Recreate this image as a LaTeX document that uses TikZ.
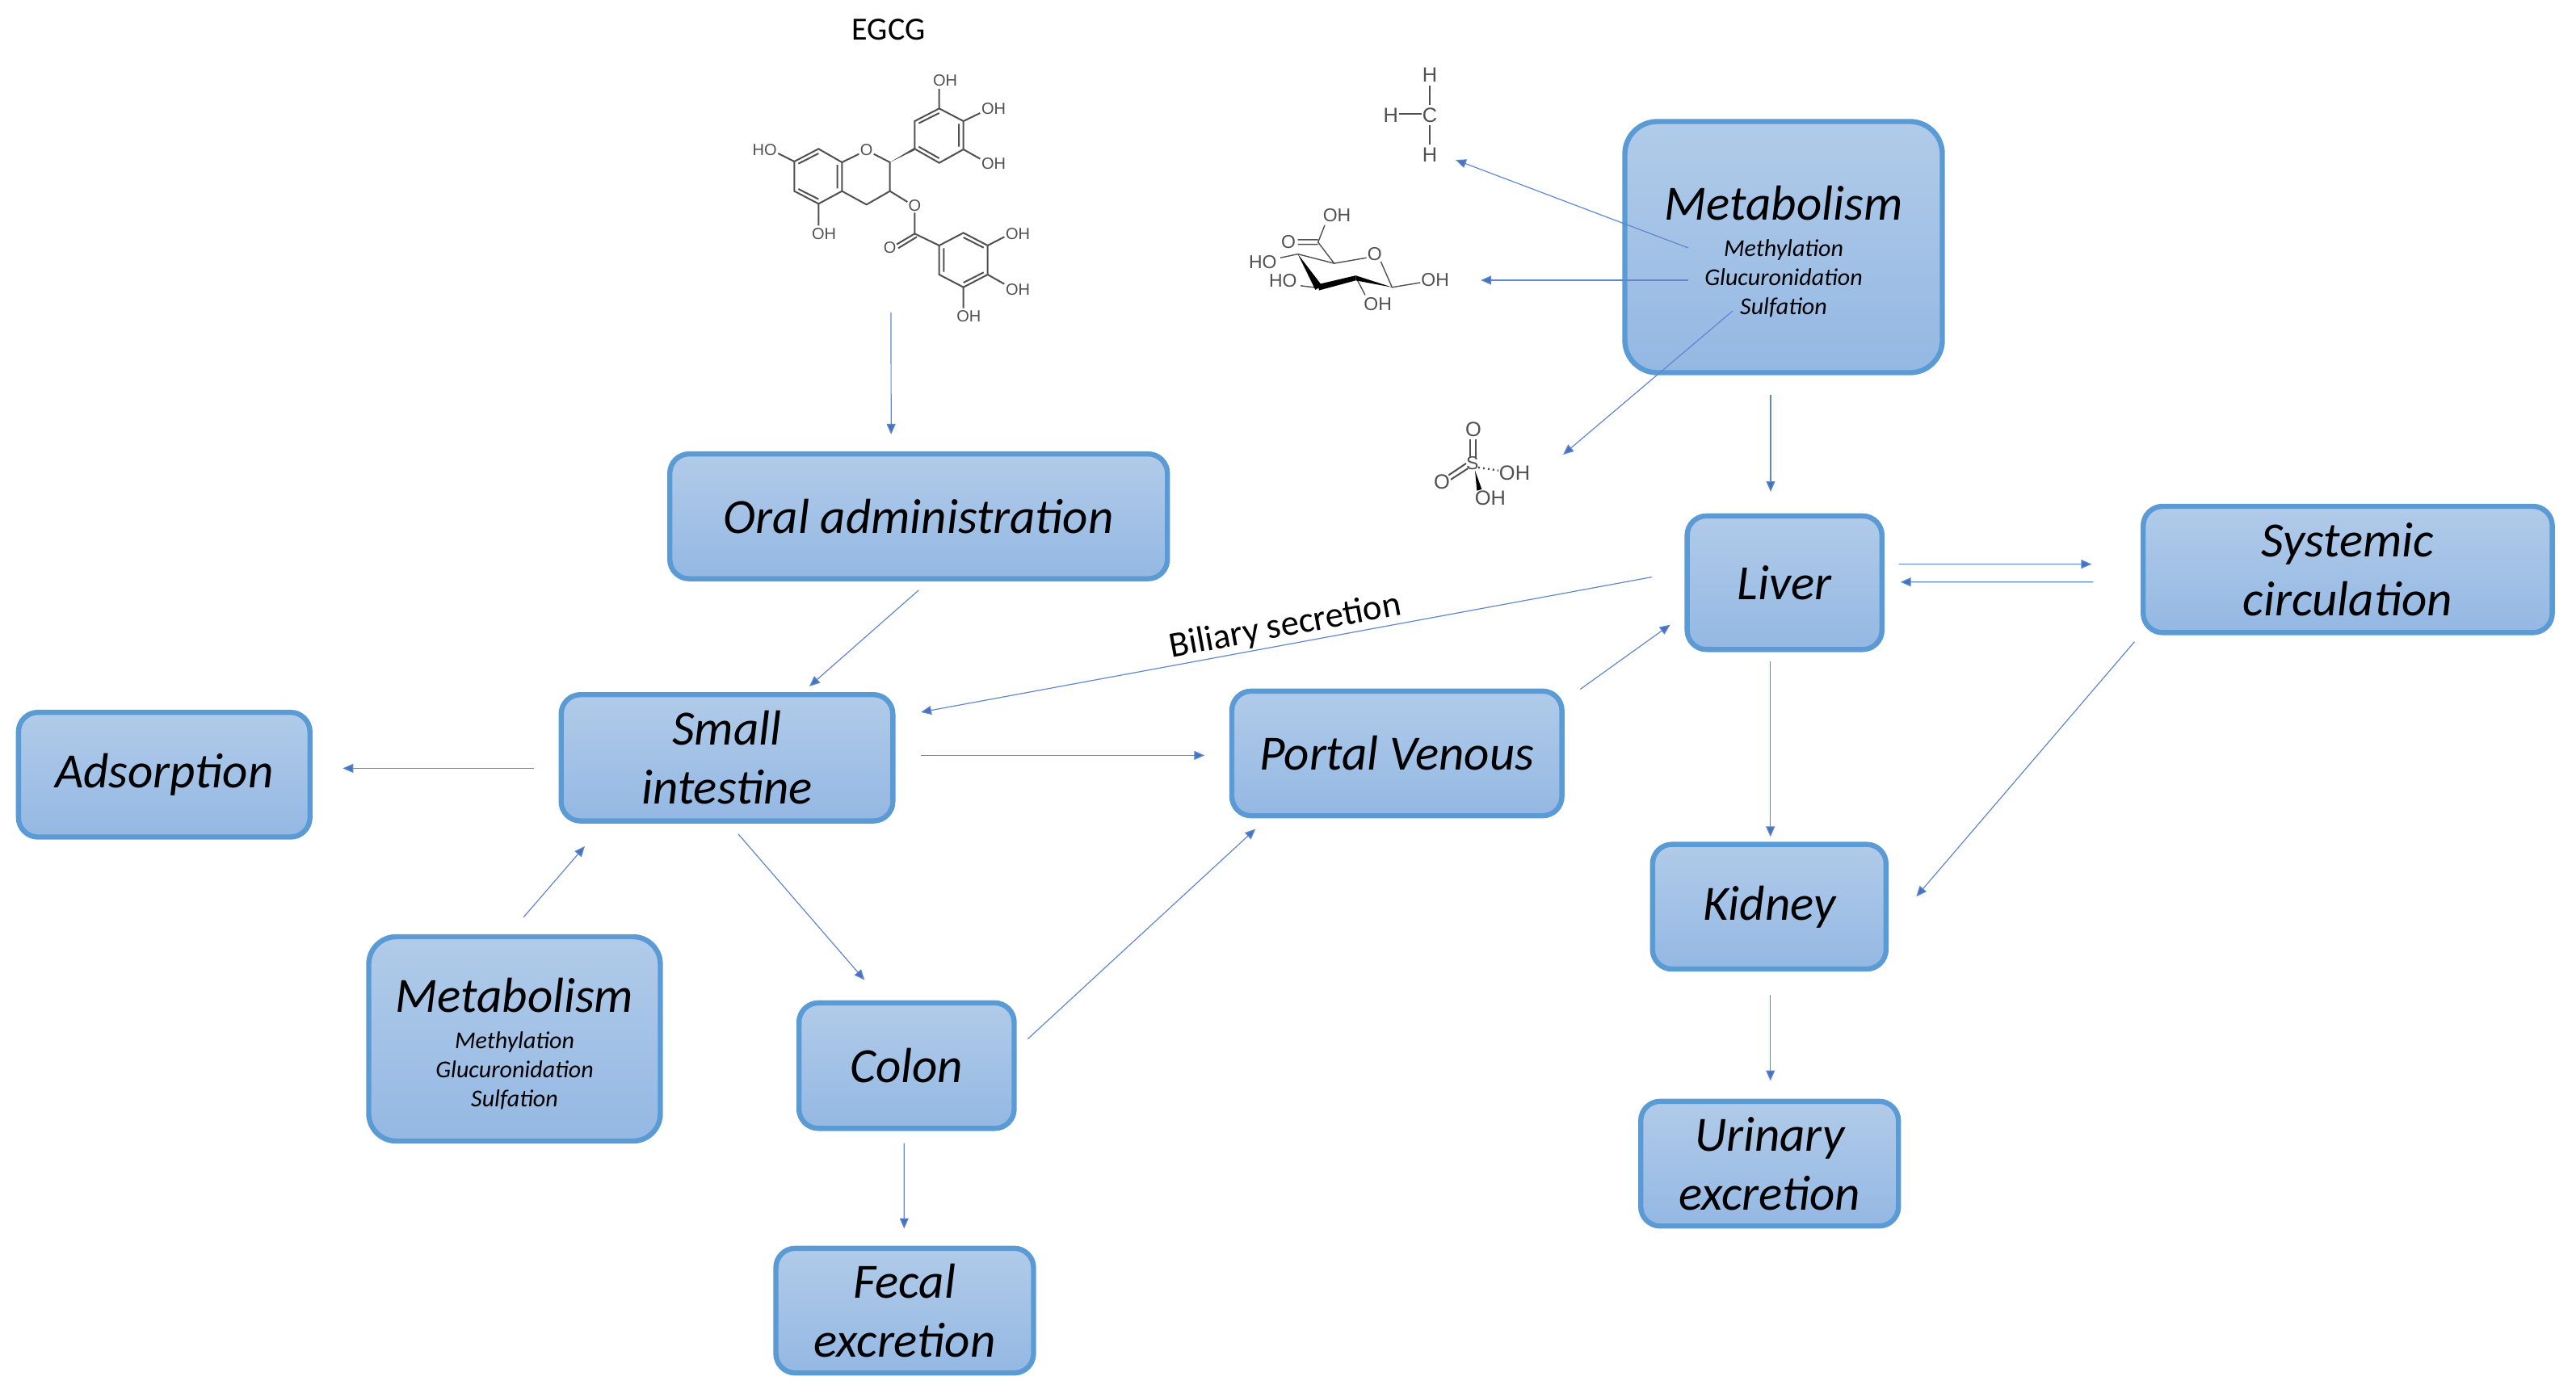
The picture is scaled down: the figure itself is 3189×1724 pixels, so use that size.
\documentclass[tikz,border=0pt]{standalone}
\usepackage{fontspec}
\setmainfont{Carlito}
\newfontfamily\chemfont{Liberation Sans}
\usetikzlibrary{arrows.meta}
\definecolor{boxline}{HTML}{5B9BD5}
\definecolor{boxtop}{HTML}{B1CBE9}
\definecolor{boxbot}{HTML}{94B8E3}
\definecolor{conn}{HTML}{4472C4}
\definecolor{bondc}{HTML}{505050}
\tikzset{
  box/.style={draw=boxline,line width=3.2pt,top color=boxtop,bottom color=boxbot,rounded corners=12pt,
    align=center,inner sep=0pt,font=\fontsize{30.5}{36.5}\selectfont\itshape,text=black},
  bigbox/.style={box,rounded corners=20pt},
  arrowc/.style={draw=conn!85,line width=0.6pt,-{Triangle[length=6.5pt,width=5.5pt,fill=conn]}},
  bond/.style={draw=bondc,line width=1pt},
  atomA/.style={inner sep=0pt,text=bondc,font=\chemfont\fontsize{10}{10}\selectfont},
  atomB/.style={inner sep=0pt,text=bondc,font=\chemfont\fontsize{11.5}{11.5}\selectfont},
  atomC/.style={inner sep=0pt,text=bondc,font=\chemfont\fontsize{12.7}{12.7}\selectfont},
}
\newcommand{\subl}[1]{{\fontsize{15}{18}\selectfont #1}}
\begin{document}
\begin{tikzpicture}[x=0.5pt,y=-0.5pt]
\useasboundingbox (0,0) rectangle (3189,1724);

% boxes
\node[box,minimum width=308pt,minimum height=77.3pt] (oral) at (1137.2,639.4) {Oral administration};
\node[box,minimum width=205.3pt,minimum height=78.2pt] (small) at (900,938.4) {Small\\intestine};
\node[box,minimum width=180.4pt,minimum height=77.2pt] (ads) at (203.3,959.3) {Adsorption};
\node[box,minimum width=204.3pt,minimum height=77.2pt] (portal) at (1729.3,933) {Portal Venous};
\node[box,minimum width=120.6pt,minimum height=82.7pt] (liver) at (2209.2,721.6) {Liver};
\node[box,minimum width=253.2pt,minimum height=78.2pt] (sys) at (2906.4,705.2) {Systemic\\circulation};
\node[box,minimum width=144.5pt,minimum height=77.2pt] (kid) at (2190.3,1122.8) {Kidney};
\node[box,minimum width=159.5pt,minimum height=77.2pt] (uri) at (2190.7,1441) {Urinary\\excretion};
\node[box,minimum width=133.2pt,minimum height=77.7pt] (colon) at (1122.3,1319.6) {Colon};
\node[box,minimum width=159.5pt,minimum height=77.2pt] (fecal) at (1120,1623) {Fecal\\excretion};
\node[bigbox,minimum width=196.5pt,minimum height=155.5pt] (mtop) at (2208,306)
  {\rule{0pt}{27pt}Metabolism\\[-14pt]\subl{Methylation}\\[-18.5pt]\subl{Glucuronidation}\\[-18.5pt]\subl{Sulfation}};
\node[bigbox,rounded corners=17pt,minimum width=180.5pt,minimum height=126.5pt] (mlow) at (637,1286.5)
  {\rule{0pt}{27pt}Metabolism\\[-14pt]\subl{Methylation}\\[-18.5pt]\subl{Glucuronidation}\\[-18.5pt]\subl{Sulfation}};

% texts
\node[inner sep=0pt,font=\fontsize{20}{20}\selectfont] (egcg) at (1100,37) {EGCG};
\node[inner sep=0pt,rotate=10.5,font=\fontsize{22.4}{22.4}\selectfont] (bil) at (1591,776) {Biliary secretion};

% free ends beside the molecules
\coordinate (egcgend) at (1103,387);
\coordinate (methylend) at (1802,198);
\coordinate (glucend) at (1833,347);
\coordinate (sulfend) at (1935,563);

% connectors
\draw[arrowc] (egcgend) -- ([shift={(-34,-101.5)}]oral.center);
\draw[arrowc] ([shift={(0,91.5)}]oral.center) -- ([shift={(102,-88.5)}]small.center);
\draw[arrowc] ([shift={(-239,13)}]small.center) -- ([shift={(221,-7.9)}]ads.center);
\draw[arrowc] ([shift={(240,-3)}]small.center) -- ([shift={(-238,2.4)}]portal.center);
\draw[arrowc] ([shift={(14,94.5)}]small.center) -- ([shift={(-52,-106)}]colon.center);
\draw[arrowc] ([shift={(11,-150.5)}]mlow.center) -- ([shift={(-176,109.5)}]small.center);
\draw[arrowc] ([shift={(150,-33)}]colon.center) -- ([shift={(-175,93.5)}]portal.center);
\draw[arrowc] ([shift={(-3,96)}]colon.center) -- ([shift={(-0.7,-101.5)}]fecal.center);
\draw[arrowc] ([shift={(227,-79.5)}]portal.center) -- ([shift={(-141.5,52)}]liver.center);
\draw[arrowc] ([shift={(-164.5,-7)}]liver.center) -- ([shift={(240,-56.5)}]small.center);
\draw[arrowc] ([shift={(141.5,-23)}]liver.center) -- ([shift={(-317,-6.6)}]sys.center);
\draw[arrowc] ([shift={(-315,15.5)}]sys.center) -- ([shift={(143.5,-0.9)}]liver.center);
\draw[arrowc] ([shift={(-264,89.5)}]sys.center) -- ([shift={(182,-12.5)}]kid.center);
\draw[arrowc] ([shift={(-17.5,97)}]liver.center) -- ([shift={(1.4,-86.5)}]kid.center);
\draw[arrowc] ([shift={(1.4,109.5)}]kid.center) -- ([shift={(1,-102.5)}]uri.center);
\draw[arrowc] ([shift={(-16,182.5)}]mtop.center) -- ([shift={(-17.2,-112.6)}]liver.center);
\draw[arrowc] ([shift={(-118,1)}]mtop.center) -- (methylend);
\draw[arrowc] ([shift={(-118,41)}]mtop.center) -- (glucend);
\draw[arrowc] ([shift={(-63,79)}]mtop.center) -- (sulfend);

% EGCG molecule
\begin{scope}[shift={(880,0)},x=0.16667pt,y=-0.16667pt]
\draw[bond] (310,600)--(400,553)--(487,603)--(487,710)--(400,757)--(310,710)--cycle;
\draw[bond] (325,608)--(400,570) (325,702)--(400,740) (470,612)--(470,700);
\draw[bond] (487,603)--(550,572) (605,572)--(665,603)--(665,710)--(578,760)--(487,710);
\draw[bond] (250,570)--(310,600) (400,757)--(400,838);
\fill[bondc] (665,603)--(757,548)--(757,558)--cycle;
\draw[bond] (757,553)--(757,450)--(848,403)--(938,450)--(938,555)--(848,605)--cycle;
\draw[bond] (772,458)--(848,420) (921,460)--(921,545) (772,545)--(848,588);
\draw[bond] (848,403)--(848,330) (938,450)--(1000,420) (938,555)--(1000,590);
\draw[bond] (665,710)--(730,750) (757,790)--(757,868)--(848,912);
\draw[bond] (757,868)--(690,908) (765,880)--(696,922);
\draw[bond] (848,912)--(938,865)--(1028,912)--(1028,1020)--(938,1067)--(848,1020)--cycle;
\draw[bond] (938,882)--(1013,920) (1013,1012)--(938,1050) (865,922)--(865,1010);
\draw[bond] (1028,912)--(1090,880) (1028,1020)--(1090,1055) (938,1067)--(938,1145);
\node[atomA] (e1) at (200,558) {HO};
\node[atomA] (e2) at (420,868) {OH};
\node[atomA] (e3) at (578,558) {O};
\node[atomA] (e4) at (870,300) {OH};
\node[atomA] (e5) at (1050,405) {OH};
\node[atomA] (e6) at (1050,608) {OH};
\node[atomA] (e7) at (757,765) {O};
\node[atomA] (e8) at (665,920) {O};
\node[atomA] (e9) at (1140,868) {OH};
\node[atomA] (e10) at (1140,1075) {OH};
\node[atomA] (e11) at (958,1175) {OH};
\end{scope}

% methyl, glucuronic acid and sulfate
\begin{scope}[shift={(1500,50)},x=0.16667pt,y=-0.1923pt]
\draw[bond] (810,145)--(810,208) (695,237)--(780,237) (810,272)--(810,335);
\node[atomC] (m1) at (810,110) {H};
\node[atomC] (m2) at (665,240) {H};
\node[atomC] (m3) at (810,240) {C};
\node[atomC] (m4) at (810,368) {H};

\draw[bond,line width=0.7pt] (420,595)--(395,650)--(455,718)--(575,700) (628,712)--(670,795)--(775,780)
  (455,718)--(320,688)--(255,700) (398,797)--(330,790) (540,770)--(570,820)
  (320,642)--(395,642) (320,657)--(395,657);
\fill[black] (320,688)--(410,790)--(385,803)--cycle;
\fill[black] (398,785)--(535,757)--(535,773)--(398,805)--cycle;
\fill[black] (535,757)--(670,795)--(535,773)--cycle;
\node[atomB] (g1) at (465,563) {OH};
\node[atomB] (g2) at (285,648) {O};
\node[atomB] (g3) at (190,715) {HO};
\node[atomB] (g4) at (265,775) {HO};
\node[atomB] (g5) at (605,688) {O};
\node[atomB] (g6) at (830,770) {OH};
\node[atomB] (g7) at (617,850) {OH};

\draw[bond] (960,1285)--(960,1345) (982,1285)--(982,1345);
\draw[bond] (880,1400)--(945,1362) (888,1414)--(952,1378);
\draw[bond,dotted,line width=1.2pt] (990,1375)--(1065,1385);
\fill[black] (978,1385)--(1003,1445)--(985,1450)--cycle;
\node[atomC] (s1) at (972,1252) {O};
\node[atomB] (s2) at (968,1362) {S};
\node[atomC] (s3) at (855,1422) {O};
\node[atomC] (s4) at (1125,1393) {OH};
\node[atomC] (s5) at (1035,1473) {OH};
\end{scope}
\end{tikzpicture}
\end{document}
